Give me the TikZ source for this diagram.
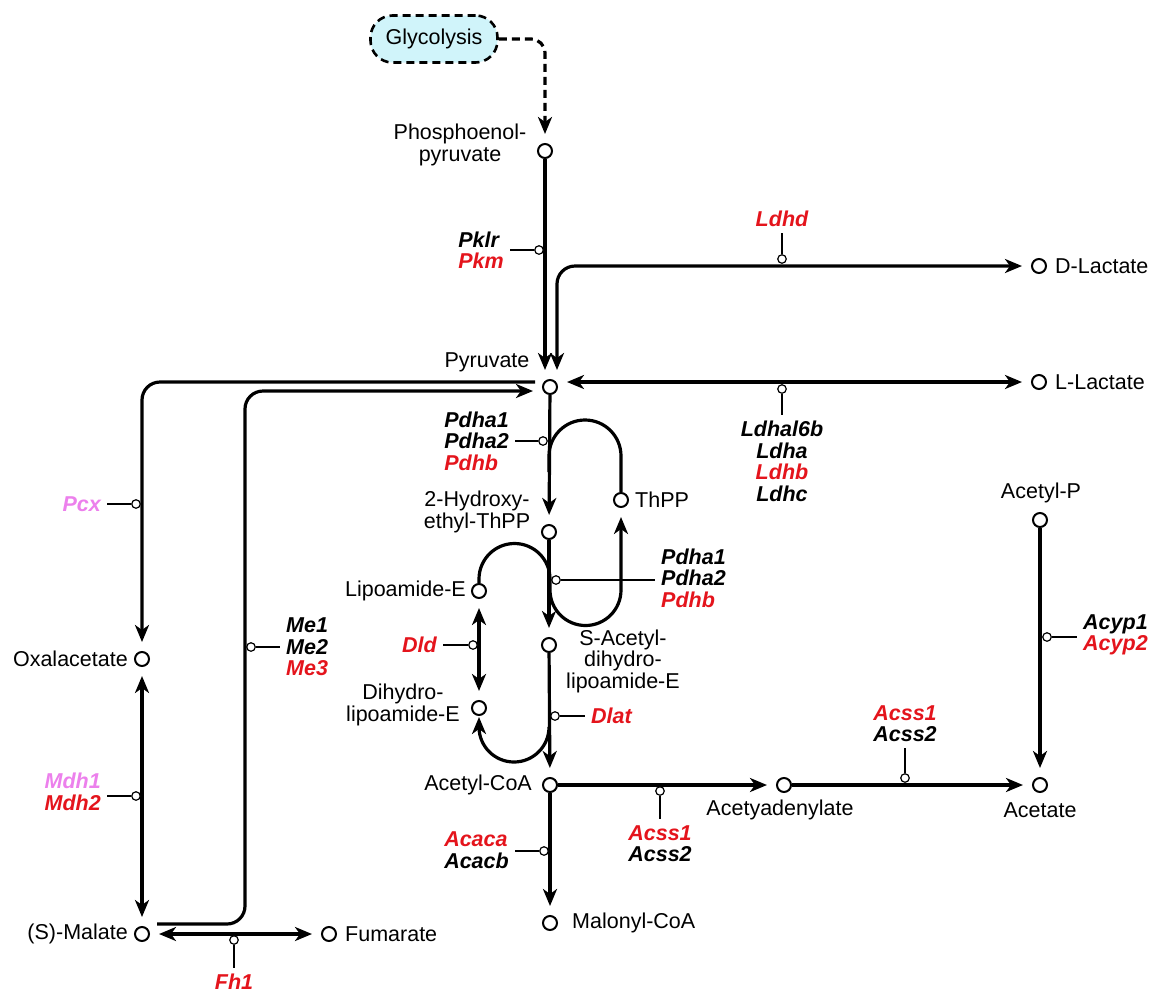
\documentclass[tikz,border=0pt]{standalone}
\usepackage{fontspec}
\setmainfont{Liberation Sans}
\usetikzlibrary{arrows.meta}

\definecolor{genered}{RGB}{228,20,28}
\definecolor{geneviolet}{RGB}{236,128,236}
\definecolor{glycfill}{RGB}{208,244,250}
\newcommand{\diagfont}{\fontsize{21.5pt}{21.5pt}\selectfont}

\tikzset{
  met/.style={circle, draw, line width=2pt, fill=white, inner sep=0pt, minimum size=14pt},
  enz/.style={circle, draw, line width=1.2pt, fill=white, inner sep=0pt, minimum size=8.5pt},
  rxn/.style={line width=3.2pt, -{Stealth[length=17pt,width=14pt,inset=5pt]}, shorten >=9pt},
  rev/.style={line width=3.2pt, {Stealth[length=17pt,width=14pt,inset=5pt]}-{Stealth[length=17pt,width=14pt,inset=5pt]}, shorten >=9pt, shorten <=9pt},
  cat/.style={line width=1.3pt},
  gene/.style={font=\diagfont\bfseries\itshape, inner sep=6pt},
  lbl/.style={font=\diagfont, inner sep=0pt},
  glycbox/.style={draw, line width=2.6pt, dash pattern=on 8pt off 5pt, fill=glycfill, rounded corners=22pt, minimum width=127pt, minimum height=47pt, font=\diagfont}
}

\begin{document}
\begin{tikzpicture}[x=1pt, y=-1pt]
  \useasboundingbox (0,0) rectangle (1157,994);

  % metabolites
  \node[glycbox] (glyc) at (434,39) {Glycolysis};
  \node[met] (pep) at (545,151) {};
  \node[met] (pyr) at (550,387) {};
  \node[met] (dlac) at (1039,266) {};
  \node[met] (llac) at (1039,382) {};
  \node[met] (hethpp) at (549,532) {};
  \node[met] (thpp) at (621,500) {};
  \node[met] (lip) at (479,591) {};
  \node[met] (sacdl) at (549,645) {};
  \node[met] (dih) at (479,708) {};
  \node[met] (accoa) at (550,785) {};
  \node[met] (malcoa) at (550,923) {};
  \node[met] (acad) at (784,785) {};
  \node[met] (acet) at (1040,785) {};
  \node[met] (acp) at (1040,520) {};
  \node[met] (oaa) at (142,659) {};
  \node[met] (mal) at (142,934) {};
  \node[met] (fum) at (329,934) {};

  % metabolite names
  \node[lbl, align=center] (peplbl) at (460,145) {Phosphoenol-\\pyruvate};
  \node[lbl] (pyrlbl) at (487,362) {Pyruvate};
  \node[lbl, anchor=west] (dlaclbl) at (1055,266) {D-Lactate};
  \node[lbl, anchor=west] (llaclbl) at (1055,382) {L-Lactate};
  \node[lbl, align=center] (hethpplbl) at (477,512) {2-Hydroxy-\\ethyl-ThPP};
  \node[lbl, anchor=west] (thpplbl) at (635,500) {ThPP};
  \node[lbl, anchor=east] (liplbl) at (466,591) {Lipoamide-E};
  \node[lbl, align=center] (sacdllbl) at (623,661) {S-Acetyl-\\dihydro-\\lipoamide-E};
  \node[lbl, align=center] (dihlbl) at (403,705) {Dihydro-\\lipoamide-E};
  \node[lbl, anchor=east] (accoalbl) at (532,785) {Acetyl-CoA};
  \node[lbl, anchor=west] (malcoalbl) at (572,923) {Malonyl-CoA};
  \node[lbl] (acadlbl) at (780,810) {Acetyadenylate};
  \node[lbl] (acetlbl) at (1040,810) {Acetate};
  \node[lbl] (acplbl) at (1041,493) {Acetyl-P};
  \node[lbl, anchor=east] (oaalbl) at (128,659) {Oxalacetate};
  \node[lbl, anchor=east] (mallbl) at (128,934) {(S)-Malate};
  \node[lbl, anchor=west] (fumlbl) at (345,934) {Fumarate};

  % reactions
  \draw[rxn, dash pattern=on 8pt off 5pt, rounded corners=14pt] (glyc.east) -| (pep);
  \draw[rxn] (pep) -- ([xshift=-5pt]pyr.north);
  \draw[rev, rounded corners=18pt] ([xshift=7pt]pyr.north) |- (dlac);
  \draw[rev] ([yshift=5pt]pyr.east) -- (llac);
  \draw[rxn, rounded corners=18pt, shorten <=7pt] ([yshift=5pt]pyr.west) -| (oaa);
  \coordinate (mecorner) at (245,391);
  \draw[rxn, rounded corners=18pt, shorten <=7pt] ([yshift=10pt]mal.east) -| (mecorner) -- ([yshift=-4pt]pyr.west);
  \draw[rev] (oaa) -- (mal);
  \draw[rev] (mal) -- (fum);

  % pyruvate dehydrogenase
  \draw[rxn] (pyr) -- (hethpp);
  \draw[line width=3.2pt] (549,472) -- (549,456) arc[start angle=180, end angle=0, radius=36pt] -- (thpp);
  \draw[rxn] (lip) -- (479,579) arc[start angle=180, end angle=0, radius=35.5pt] -- (550,590)
    arc[start angle=180, end angle=360, radius=35.5pt] -- (thpp);
  \draw[rxn] (hethpp) -- (sacdl);
  \draw[rev] (lip) -- (dih);
  \draw[rxn] (sacdl) -- (accoa);
  \draw[rxn, shorten >=1pt] (549,727) arc[start angle=0, end angle=-180, radius=35pt] -- (dih);

  % acetyl-coa
  \draw[rxn] (accoa) -- (malcoa);
  \draw[rxn] (accoa) -- (acad);
  \draw[rxn] (acad) -- (acet);
  \draw[rxn] (acp) -- (acet);

  % enzymes
  \node[enz] (pkm) at (539,250) {};
  \node[gene, anchor=east, align=left] (pkmg) at (510,250) {Pklr\\\textcolor{genered}{Pkm}};
  \draw[cat] (pkm) -- (pkmg.east |- pkm);

  \node[enz] (ldhd) at (782,259) {};
  \node[gene, anchor=south, text=genered] (ldhdg) at (782,233) {Ldhd};
  \draw[cat] (ldhd) -- (ldhdg);

  \node[enz] (ldh) at (782,389) {};
  \node[gene, anchor=north, align=center] (ldhg) at (782,415) {Ldhal6b\\Ldha\\\textcolor{genered}{Ldhb}\\Ldhc};
  \draw[cat] (ldh) -- (ldhg);

  \node[enz] (pdh) at (543,441) {};
  \node[gene, anchor=east, align=left] (pdhg) at (515,441) {Pdha1\\Pdha2\\\textcolor{genered}{Pdhb}};
  \draw[cat] (pdh) -- (pdhg.east |- pdh);

  \node[enz] (pdhb) at (556,580) {};
  \node[gene, anchor=west, align=left] (pdhbg) at (655,578) {Pdha1\\Pdha2\\\textcolor{genered}{Pdhb}};
  \draw[cat] (pdhb) -- (pdhbg.west |- pdhb);

  \node[enz] (pcx) at (136,504) {};
  \node[gene, anchor=east, text=geneviolet] (pcxg) at (107,504) {Pcx};
  \draw[cat] (pcx) -- (pcxg);

  \node[enz] (me) at (251,647) {};
  \node[gene, anchor=west, align=left] (meg) at (280,647) {Me1\\Me2\\\textcolor{genered}{Me3}};
  \draw[cat] (me) -- (meg.west |- me);

  \node[enz] (dld) at (473,645) {};
  \node[gene, anchor=east, text=genered] (dldg) at (443,645) {Dld};
  \draw[cat] (dld) -- (dldg);

  \node[enz] (dlat) at (555,716) {};
  \node[gene, anchor=west, text=genered] (dlatg) at (585,716) {Dlat};
  \draw[cat] (dlat) -- (dlatg);

  \node[enz] (mdh) at (136,796) {};
  \node[gene, anchor=east, align=left] (mdhg) at (107,792) {\textcolor{geneviolet}{Mdh1}\\\textcolor{genered}{Mdh2}};
  \draw[cat] (mdh) -- (mdhg.east |- mdh);

  \node[enz] (fh) at (234,940) {};
  \node[gene, anchor=north, text=genered] (fhg) at (234,968) {Fh1};
  \draw[cat] (fh) -- (fhg);

  \node[enz] (acc) at (544,851) {};
  \node[gene, anchor=east, align=left] (accg) at (515,850) {\textcolor{genered}{Acaca}\\Acacb};
  \draw[cat] (acc) -- (accg.east |- acc);

  \node[enz] (acsa) at (660,791) {};
  \node[gene, anchor=north, align=center] (acsag) at (660,819) {\textcolor{genered}{Acss1}\\Acss2};
  \draw[cat] (acsa) -- (acsag);

  \node[enz] (acsb) at (905,778) {};
  \node[gene, anchor=south, align=center] (acsbg) at (905,748) {\textcolor{genered}{Acss1}\\Acss2};
  \draw[cat] (acsb) -- (acsbg);

  \node[enz] (acyp) at (1047,637) {};
  \node[gene, anchor=west, align=left] (acypg) at (1077,635) {Acyp1\\\textcolor{genered}{Acyp2}};
  \draw[cat] (acyp) -- (acypg.west |- acyp);
\end{tikzpicture}
\end{document}
